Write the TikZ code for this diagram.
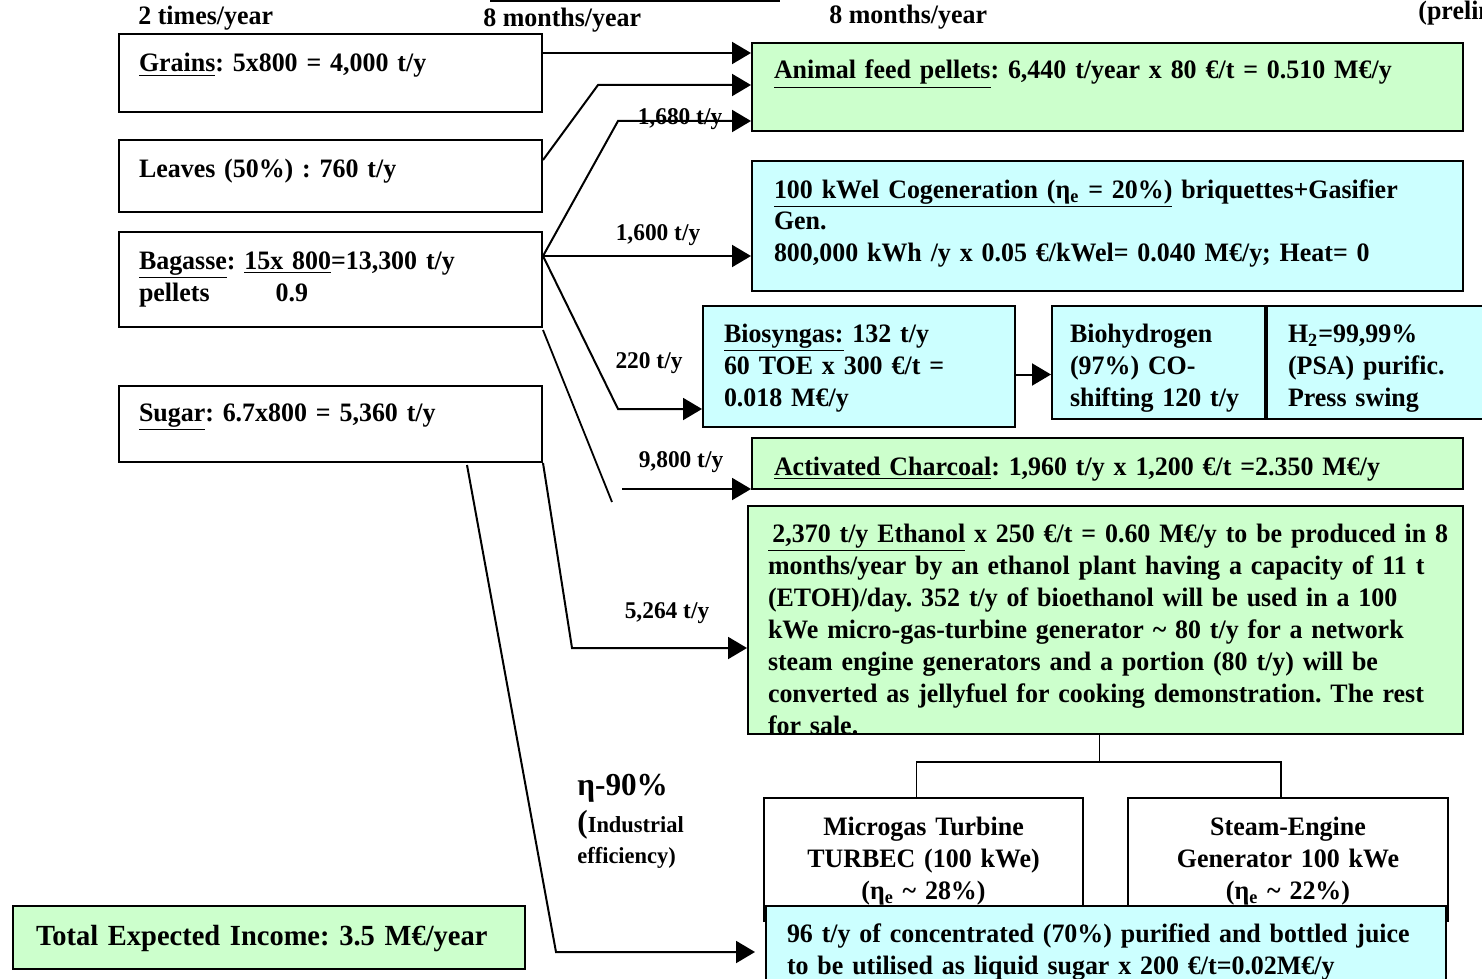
\documentclass[tikz,border=0pt]{standalone}
\usepackage{fontspec}
\setmainfont{Liberation Serif}[FakeStretch=0.975]
\frenchspacing
\usetikzlibrary{arrows.meta,positioning,calc}
\definecolor{feedgreen}{HTML}{CCFFCC}
\definecolor{gascyan}{HTML}{CCFFFF}
\definecolor{notepale}{HTML}{FFFFCC}

\begin{document}
\begin{tikzpicture}[x=0.5pt,y=-0.5pt,>=Latex,font=\fontsize{13.3}{16}\selectfont\bfseries,
  box/.style={draw,line width=1pt,fill=white,inner ysep=0pt,inner xsep=10pt,align=left,anchor=north west},
  flow/.style={-{Triangle[length=9.5pt,width=11pt]},line width=1pt},
  tie/.style={line width=0.9pt},
  qty/.style={anchor=base,inner sep=0pt,font=\fontsize{12}{14}\selectfont\bfseries},
  note/.style={anchor=base west,inner sep=0pt}]
\useasboundingbox (0,0) rectangle (1482,979);
\clip (0,0) rectangle (1482,979);
% headings along the top
\node[note] (twice) at (138,25) {2 times/year};
\node[note] (monthsA) at (483,27) {8 months/year};
\node[note] (monthsB) at (829,24) {8 months/year};
\node[note] (prelim) at (1418,20) {(preliminary)};
\node[draw,line width=0.8pt,fill=notepale,minimum width=144pt,minimum height=20pt,anchor=south west,inner sep=0pt] (topnote) at (490,2) {};
% raw materials
\node[box,text width=191.5pt,text height=19pt,text depth=20pt] (grains) at (118,33) {\underline{Grains}: 5x800 = 4,000 t/y};
\node[box,text width=191.5pt,text height=18.5pt,text depth=17.5pt] (leaves) at (118,139) {Leaves (50\%) : 760 t/y};
\node[box,text width=191.5pt,text height=18.5pt,text depth=29pt] (bagasse) at (118,231) {\underline{Bagasse}: \underline{15x 800}=13,300 t/y\\pellets\hspace*{33pt}0.9};
\node[box,text width=191.5pt,text height=17.5pt,text depth=20.5pt] (sugar) at (118,385) {\underline{Sugar}: 6.7x800 = 5,360 t/y};
\node[box,fill=feedgreen,inner xsep=10pt,text width=236pt,text height=19.5pt,text depth=12pt,font=\fontsize{14.6}{17}\selectfont\bfseries] (total) at (12,905) {\hspace*{1.5pt}Total Expected Income: 3.5 M€/year};
% products
\node[box,fill=feedgreen,inner xsep=11pt,text width=333.5pt,text height=18pt,text depth=26pt] (feed) at (751,42) {\underline{Animal feed pellets}: 6,440 t/year x 80 €/t = 0.510 M€/y};
\node[box,fill=gascyan,inner xsep=11pt,text width=333.5pt,text height=18.5pt,text depth=46.5pt] (cogen) at (751,160) {\underline{100 kWel Cogeneration (η\textsubscript{e} = 20\%)} briquettes+Gasifier\\Gen.\\800,000 kWh /y x 0.05 €/kWel= 0.040 M€/y; Heat= 0};
\node[box,fill=gascyan,inner xsep=10.5pt,text width=135pt,text height=18pt,text depth=42.5pt] (syngas) at (702,305) {\underline{Biosyngas:} 132 t/y\\60 TOE x 300 €/t =\\0.018 M€/y};
\node[box,fill=gascyan,inner xsep=9pt,text width=88.5pt,text height=18pt,text depth=38.5pt] (hydro) at (1051,305) {Biohydrogen\\(97\%) CO-\\shifting 120 t/y};
\node[box,fill=gascyan,inner xsep=10.5pt,text width=97pt,text height=18pt,text depth=38.5pt,right=0pt of hydro] (htwo) {H\textsubscript{2}=99,99\%\\(PSA) purific.\\Press swing};
\node[box,fill=feedgreen,inner xsep=11pt,text width=333.5pt,text height=18.5pt,text depth=7pt] (charcoal) at (751,437) {\underline{Activated Charcoal}: 1,960 t/y x 1,200 €/t =2.350 M€/y};
\node[box,fill=feedgreen,inner xsep=7pt,text width=343.5pt,text height=18pt,text depth=96pt] (ethanol) at (747,505) {\mbox{\hspace*{3pt}\underline{\,2,370 t/y Ethanol} x 250 €/t = 0.60 M€/y to be produced in 8}\\\hspace*{3pt}months/year by an ethanol plant having a capacity of 11 t\\\hspace*{3pt}(ETOH)/day. 352 t/y of bioethanol will be used in a 100\\\hspace*{3pt}kWe micro-gas-turbine generator \textasciitilde{} 80 t/y for a network\\\hspace*{3pt}steam engine generators and a portion (80 t/y) will be\\\hspace*{3pt}converted as jellyfuel for cooking demonstration. The rest\\\hspace*{3pt}for sale.};
\node[box,align=center,text width=139.5pt,text height=18.5pt,text depth=43pt] (micro) at (763,797) {Microgas Turbine\\TURBEC (100 kWe)\\(η\textsubscript{e} \textasciitilde{} 28\%)};
\node[box,align=center,text width=140pt,text height=18.5pt,text depth=43pt] (steam) at (1127,797) {Steam-Engine\\Generator 100 kWe\\(η\textsubscript{e} \textasciitilde{} 22\%)};
\node[box,fill=gascyan,inner xsep=10.5pt,text width=319pt,text height=18pt,text depth=27pt] (juice) at (765,905) {96 t/y of concentrated (70\%) purified and bottled juice\\to be utilised as liquid sugar x 200 €/t=0.02M€/y};
% flow labels
\node[qty] (qfeed) at (680,125) {1,680 t/y};
\node[qty] (qcogen) at (658,240) {1,600 t/y};
\node[qty] (qsyngas) at (649,368) {220 t/y};
\node[qty] (qchar) at (681,467) {9,800 t/y};
\node[qty] (qeth) at (667,618) {5,264 t/y};
\node[note,font=\fontsize{16}{18}\selectfont\bfseries] (eta) at (577,795) {η-90\%};
\node[note,align=left,text width=70pt,font=\fontsize{11.5}{15.5}\selectfont\bfseries] (indeff) at (577,832) {{\fontsize{16}{16}\selectfont(}Industrial\\efficiency)};
% bends
\coordinate (grainsout) at ([yshift=-10pt]grains.north east);
\coordinate (leafout) at ([yshift=-10.5pt]leaves.north east);
\coordinate (bagout) at ([yshift=-12.5pt]bagasse.north east);
\coordinate (leafbend) at (598,85);
\coordinate (pelletbend) at (618,121);
\coordinate (syngasbend) at (618,409);
\coordinate (charend) at (612,502);
\coordinate (charstart) at (622,489);
\coordinate (ethbend) at (572,648);
\coordinate (juicetop) at (467,465);
\coordinate (juicebend) at (556,952);
\coordinate (synout) at ([yshift=-4pt]syngas.east);
% connectors
\draw[flow] (grainsout) -- (grainsout -| feed.west);
\draw[flow] (leafout) -- (leafbend) -- (leafbend -| feed.west);
\draw[flow] (bagout) -- (pelletbend) -- (pelletbend -| feed.west);
\draw[flow] (bagout) -- (bagout -| cogen.west);
\draw[flow] (bagout) -- (syngasbend) -- (syngasbend -| syngas.west);
\draw[tie] ([yshift=-1pt]bagasse.south east) -- (charend);
\draw[flow] (charstart) -- (charstart -| charcoal.west);
\draw[flow] (sugar.south east) -- (ethbend) -- (ethbend -| ethanol.west);
\draw[flow,shorten >=5pt] (juicetop) -- (juicebend) -- (juicebend -| juice.west);
\draw[flow] (synout) -- (synout -| hydro.west);
% ethanol users
\coordinate (ethfoot) at ([xshift=-3pt]ethanol.south);
\draw[tie] (ethfoot) -- ++(0,27) coordinate (split);
\draw[tie] ([xshift=-3.5pt]micro.north) |- (split) -| ([xshift=-3.5pt]steam.north);
\end{tikzpicture}
\end{document}
